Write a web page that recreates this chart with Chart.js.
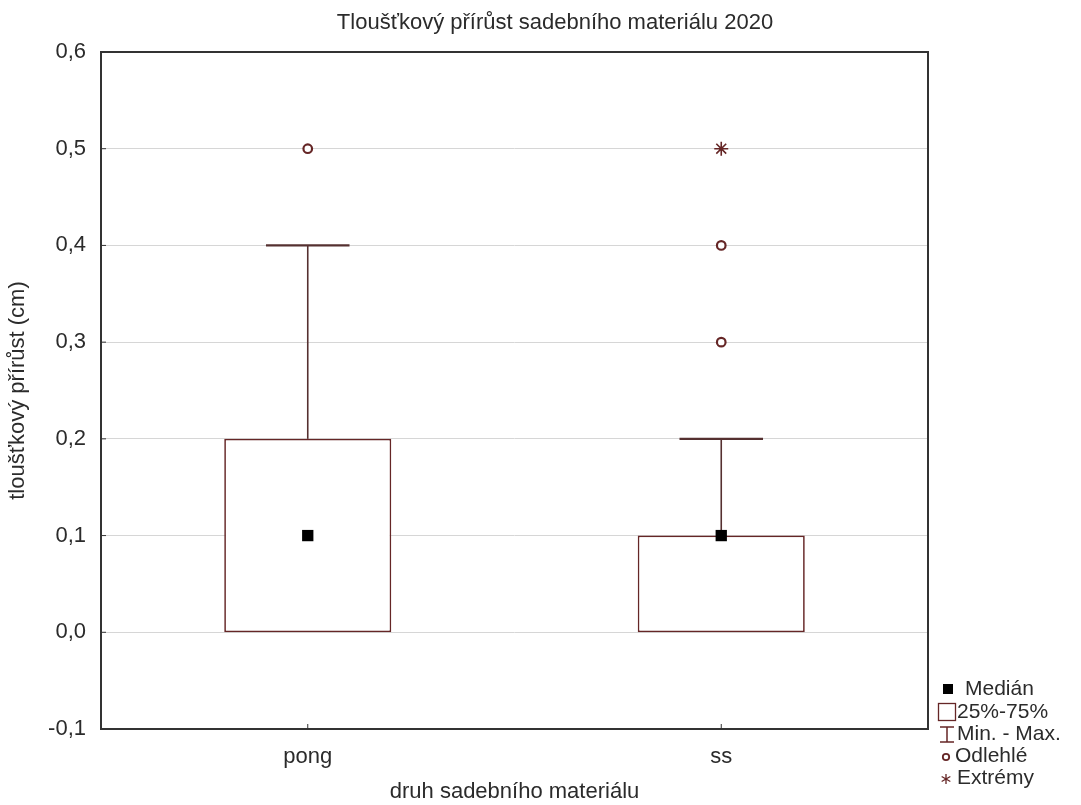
<!DOCTYPE html>
<html><head><meta charset="utf-8">
<script src="https://cdn.jsdelivr.net/npm/chart.js@4.4.1/dist/chart.umd.min.js"></script>
<style>html,body{margin:0;padding:0;background:#fff}#wrap{width:1081px;height:805px;position:relative}</style>
</head><body><div id="wrap"><canvas id="c"></canvas></div>
<script>
const categories = ['pong', 'ss'];
const minValues = [0.0, 0.0];
const q1Values = [0.0, 0.0];
const medianValues = [0.1, 0.1];
const q3Values = [0.2, 0.1];
const maxValues = [0.4, 0.2];
const outlierCats = ['pong', 'ss', 'ss'];
const outlierValues = [0.5, 0.4, 0.3];
const extremeCats = ['ss'];
const extremeValues = [0.5];
const yMin = -0.1, yMax = 0.6, yStep = 0.1;
const chartTitle = 'Tloušťkový přírůst sadebního materiálu 2020';
const xTitle = 'druh sadebního materiálu';
const yTitle = 'tloušťkový přírůst (cm)';
const legendLabels = ['Medián', '25%-75%', 'Min. - Max.', 'Odlehlé', 'Extrémy'];

const FONT = "'Liberation Sans', Arial, sans-serif";
const MAROON = '#652626';
const WHISK = '#553030';
const TEXT = '#2b2b2b';

const whiskerPlugin = {
  id: 'whiskers',
  afterDatasetDraw(chart, args) {
    if (args.index !== 0) return;
    const ctx = chart.ctx, y = chart.scales.y, meta = args.meta;
    ctx.save();
    ctx.strokeStyle = WHISK;
    categories.forEach((c, i) => {
      const bar = meta.data[i];
      const cx = bar.x, half = bar.width / 4;
      const yq3 = y.getPixelForValue(q3Values[i]);
      const ymax = y.getPixelForValue(maxValues[i]);
      const yq1 = y.getPixelForValue(q1Values[i]);
      const ymin = y.getPixelForValue(minValues[i]);
      ctx.lineWidth = 1.6;
      ctx.beginPath(); ctx.moveTo(cx, yq3); ctx.lineTo(cx, ymax); ctx.stroke();
      ctx.beginPath(); ctx.moveTo(cx, yq1); ctx.lineTo(cx, ymin); ctx.stroke();
      ctx.lineWidth = 2.2;
      ctx.beginPath(); ctx.moveTo(cx - half, ymax); ctx.lineTo(cx + half, ymax); ctx.stroke();
      if (minValues[i] !== q1Values[i]) {
        ctx.beginPath(); ctx.moveTo(cx - half, ymin); ctx.lineTo(cx + half, ymin); ctx.stroke();
      }
    });
    ctx.restore();
  }
};

const framePlugin = {
  id: 'frame',
  afterDraw(chart) {
    const ctx = chart.ctx, a = chart.chartArea;
    ctx.save();
    ctx.strokeStyle = '#333333';
    ctx.lineWidth = 2;
    ctx.strokeRect(a.left, a.top, a.right - a.left, a.bottom - a.top);
    ctx.lineWidth = 1;
    const xs = chart.scales.x, ys = chart.scales.y;
    xs.ticks.forEach((t, i) => {
      const px = xs.getPixelForTick(i);
      ctx.beginPath(); ctx.moveTo(px, a.bottom); ctx.lineTo(px, a.bottom - 5); ctx.stroke();
    });
    ys.ticks.forEach((t, i) => {
      const py = ys.getPixelForTick(i);
      ctx.beginPath(); ctx.moveTo(a.left, py); ctx.lineTo(a.left + 5, py); ctx.stroke();
    });
    // title
    ctx.fillStyle = TEXT;
    ctx.font = '22px ' + FONT;
    ctx.textAlign = 'center';
    ctx.textBaseline = 'alphabetic';
    ctx.fillText(chartTitle, 555, 29);
    // legend
    ctx.textAlign = 'left';
    ctx.textBaseline = 'middle';
    ctx.font = '21px ' + FONT;
    ctx.fillStyle = '#000';
    ctx.fillRect(943, 684, 10, 10);
    ctx.strokeStyle = MAROON; ctx.lineWidth = 1.3;
    ctx.fillStyle = '#fff';
    ctx.fillRect(938.5, 703.5, 17, 17);
    ctx.strokeRect(938.5, 703.5, 17, 17);
    ctx.lineWidth = 1.5;
    ctx.beginPath();
    ctx.moveTo(940, 727); ctx.lineTo(954, 727);
    ctx.moveTo(947, 727); ctx.lineTo(947, 742);
    ctx.moveTo(940, 742); ctx.lineTo(954, 742);
    ctx.stroke();
    ctx.lineWidth = 1.8;
    ctx.beginPath(); ctx.arc(946, 757, 3.2, 0, Math.PI * 2); ctx.stroke();
    ctx.lineWidth = 1.3;
    ctx.beginPath();
    for (let k = 0; k < 3; k++) {
      const ang = Math.PI / 2 + k * Math.PI / 3;
      ctx.moveTo(946 + 5 * Math.cos(ang), 779 + 5 * Math.sin(ang));
      ctx.lineTo(946 - 5 * Math.cos(ang), 779 - 5 * Math.sin(ang));
    }
    ctx.stroke();
    ctx.fillStyle = TEXT;
    const ly = [689, 712, 734, 756, 778];
    const lx = [965, 957, 957, 955, 957];
    legendLabels.forEach((l, i) => ctx.fillText(l, lx[i], ly[i]));
    ctx.restore();
  }
};

new Chart(document.getElementById('c'), {
  type: 'bar',
  data: {
    labels: categories,
    datasets: [
      {
        type: 'bar',
        data: categories.map((c, i) => [q1Values[i], q3Values[i]]),
        backgroundColor: '#ffffff',
        borderColor: MAROON,
        borderWidth: 1.7,
        borderSkipped: false,
        barPercentage: 0.404,
        categoryPercentage: 1,
        order: 5
      },
      {
        type: 'line',
        data: medianValues,
        showLine: false,
        pointStyle: 'rect',
        pointRadius: 8,
        pointHoverRadius: 8,
        backgroundColor: '#000',
        borderColor: '#000',
        borderWidth: 0,
        order: 0
      },
      {
        type: 'line',
        data: outlierValues.map((v, i) => ({ x: outlierCats[i], y: v })),
        showLine: false,
        pointStyle: 'circle',
        pointRadius: 4.3,
        pointHoverRadius: 4.3,
        backgroundColor: '#fff',
        borderColor: MAROON,
        borderWidth: 2.2,
        order: 1
      },
      {
        type: 'line',
        data: extremeValues.map((v, i) => ({ x: extremeCats[i], y: v })),
        showLine: false,
        pointStyle: 'star',
        pointRadius: 7,
        pointHoverRadius: 7,
        backgroundColor: MAROON,
        borderColor: MAROON,
        borderWidth: 1.6,
        order: 1
      }
    ]
  },
  options: {
    responsive: true,
    maintainAspectRatio: false,
    animation: false,
    layout: { padding: { left: 0, top: 52, right: 153, bottom: 0 } },
    plugins: { legend: { display: false }, tooltip: { enabled: false }, title: { display: false } },
    scales: {
      x: {
        offset: true,
        grid: { display: false, drawTicks: false },
        border: { display: false },
        ticks: { color: TEXT, font: { family: FONT, size: 22 }, padding: 15 },
        title: { display: true, text: xTitle, color: TEXT, font: { family: FONT, size: 22 }, padding: { top: 0, bottom: 0 } },
        afterFit(s) { s.height = 76; }
      },
      y: {
        min: yMin, max: yMax,
        grid: { color: '#d6d6d6', lineWidth: 1, drawTicks: false },
        border: { display: false },
        ticks: {
          stepSize: yStep,
          color: TEXT,
          font: { family: FONT, size: 22 },
          padding: 15,
          callback: v => (Math.round(v * 10) / 10).toFixed(1).replace('.', ',')
        },
        title: { display: true, text: yTitle, color: TEXT, font: { family: FONT, size: 22 }, padding: { top: 5, bottom: 0 } },
        afterFit(s) { s.width = 101; }
      }
    }
  },
  plugins: [whiskerPlugin, framePlugin]
});
</script>
</body></html>
